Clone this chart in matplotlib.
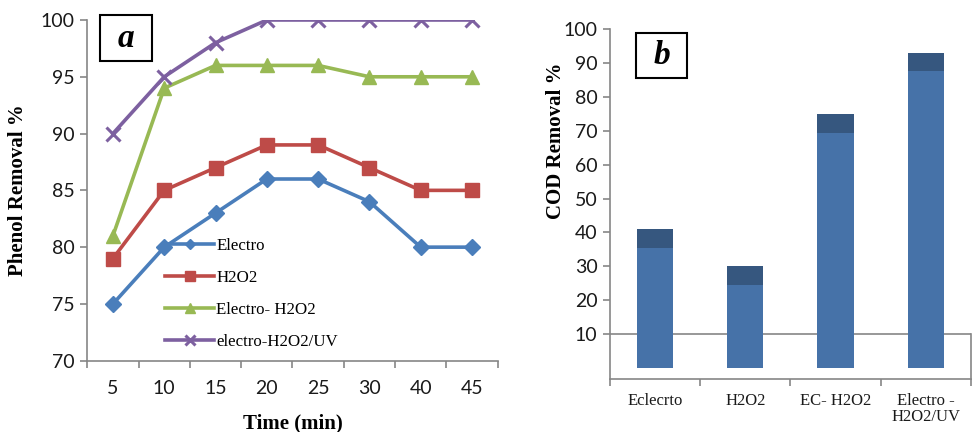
import numpy as np
import matplotlib
matplotlib.use('Agg')
import matplotlib.pyplot as plt
from matplotlib.patches import Rectangle

# panel a data
times = ['5', '10', '15', '20', '25', '30', '40', '45']
electro = [75, 80, 83, 86, 86, 84, 80, 80]
h2o2 = [79, 85, 87, 89, 89, 87, 85, 85]
electro_h2o2 = [81, 94, 96, 96, 96, 95, 95, 95]
electro_uv = [90, 95, 98, 100, 100, 100, 100, 100]

# panel b data
processes = ['Eclecrto', 'H2O2', 'EC- H2O2', 'Electro -\nH2O2/UV']
cod_base = [35.5, 24.5, 69.5, 87.6]
cod_top = [5.5, 5.5, 5.5, 5.5]

serif = 'Liberation Serif'
sans = 'Lato'
spine_col = '#868686'
tick_col = '#1a1a1a'

fig = plt.figure(figsize=(9.72, 4.32), dpi=100)

# ---------------- panel a ----------------
ax1 = fig.add_axes([0.0898, 0.165, 0.4222, 0.7887])
x = np.arange(len(times))
ax1.plot(x, electro, color='#4a7ebb', lw=2.6, marker='D', ms=8, label='Electro')
ax1.plot(x, h2o2, color='#be4b48', lw=2.6, marker='s', ms=10, label='H2O2')
ax1.plot(x, electro_h2o2, color='#98b954', lw=2.6, marker='^', ms=10, label='Electro- H2O2')
ax1.plot(x, electro_uv, color='#7d60a0', lw=2.6, marker='x', ms=10, mew=2.2, label='electro-H2O2/UV')

ax1.set_xlim(-0.5, len(times) - 0.5)
ax1.set_ylim(70, 100)
ax1.set_yticks(range(70, 101, 5))
ax1.set_xticks(np.arange(-0.5, len(times), 1.0))
ax1.set_xticklabels([])
ax1.set_xticks(x, minor=True)
ax1.set_xticklabels(times, minor=True)
ax1.tick_params(axis='x', which='minor', length=0, pad=14)
ax1.tick_params(axis='x', which='major', length=5, color=spine_col, width=1.2)
ax1.tick_params(axis='y', length=5, color=spine_col, width=1.2, pad=4)
for lab in ax1.get_xticklabels(minor=True) + ax1.get_yticklabels():
    lab.set_fontfamily(sans)
    lab.set_fontsize(14)
    lab.set_color(tick_col)
for s in ['top', 'right']:
    ax1.spines[s].set_visible(False)
for s in ['left', 'bottom']:
    ax1.spines[s].set_color(spine_col)
    ax1.spines[s].set_linewidth(1.2)

ax1.set_xlabel('Time (min)', fontfamily=serif, fontweight='bold', fontsize=15)
ax1.xaxis.set_label_coords(0.5, -0.155)
ax1.set_ylabel('Phenol Removal %', fontfamily=serif, fontweight='bold', fontsize=15)
ax1.yaxis.set_label_coords(-0.145, 0.5)

leg = ax1.legend(loc='upper left', bbox_to_anchor=(0.19, 0.36), frameon=False,
                 prop={'family': serif, 'size': 12.2}, handlelength=2.9,
                 handletextpad=0.1, labelspacing=0.95, borderpad=0, borderaxespad=0,
                 markerscale=0.7)

ax1.add_patch(Rectangle((0.031, 0.88), 0.126, 0.135, transform=ax1.transAxes,
                        fill=False, ec='black', lw=1.5, clip_on=False))
ax1.text(0.094, 0.945, 'a', transform=ax1.transAxes, ha='center', va='center',
         fontfamily=serif, fontweight='bold', fontstyle='italic', fontsize=24)

# ---------------- panel b ----------------
ax2 = fig.add_axes([0.6276, 0.1227, 0.3711, 0.8095])
xb = np.arange(len(processes))
ax2.bar(xb, cod_base, width=0.4, color='#4672a8')
ax2.bar(xb, cod_top, bottom=cod_base, width=0.4, color='#36577f')
ymin = -3.3
ax2.set_xlim(-0.5, len(processes) - 0.5)
ax2.set_ylim(ymin, 100)
ax2.set_yticks(range(10, 101, 10))
ax2.axhline(10, color=spine_col, lw=1.2, zorder=0)
ax2.set_xticks(np.arange(-0.5, len(processes), 1.0))
ax2.set_xticklabels([])
ax2.set_xticks(xb, minor=True)
ax2.set_xticklabels(processes, minor=True)
ax2.tick_params(axis='x', which='minor', length=0, pad=10)
ax2.tick_params(axis='x', which='major', length=5, color=spine_col, width=1.2)
ax2.tick_params(axis='y', length=5, color=spine_col, width=1.2, pad=4)
for lab in ax2.get_xticklabels(minor=True):
    lab.set_fontfamily(serif)
    lab.set_fontsize(12)
    lab.set_color(tick_col)
    lab.set_linespacing(1.05)
for lab in ax2.get_yticklabels():
    lab.set_fontfamily(sans)
    lab.set_fontsize(14)
    lab.set_color(tick_col)
ax2.spines['top'].set_visible(False)
ax2.spines['right'].set_bounds(ymin, 10)
for s in ['left', 'bottom', 'right']:
    ax2.spines[s].set_color(spine_col)
    ax2.spines[s].set_linewidth(1.2)

ax2.set_ylabel('COD Removal %', fontfamily=serif, fontweight='bold', fontsize=15)
ax2.yaxis.set_label_coords(-0.122, 0.68)

ax2.add_patch(Rectangle((0.073, 0.86), 0.141, 0.13, transform=ax2.transAxes,
                        fill=False, ec='black', lw=1.5, clip_on=False))
ax2.text(0.1435, 0.925, 'b', transform=ax2.transAxes, ha='center', va='center',
         fontfamily=serif, fontweight='bold', fontstyle='italic', fontsize=24)

fig.savefig('out.png', dpi=100)
